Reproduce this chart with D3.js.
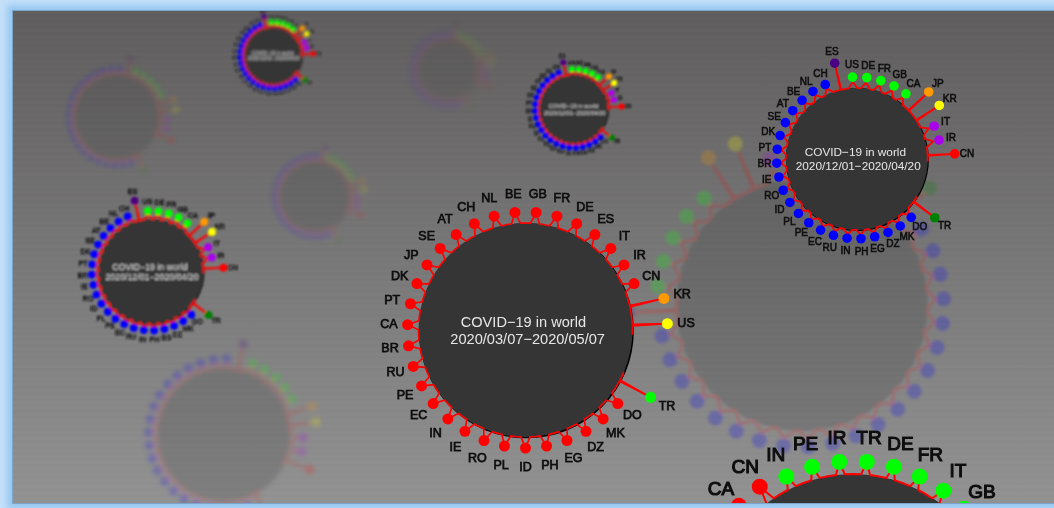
<!DOCTYPE html>
<html>
<head>
<meta charset="utf-8">
<script src="https://cdnjs.cloudflare.com/ajax/libs/d3/7.8.5/d3.min.js"></script>
<style>
  html, body { margin: 0; padding: 0; width: 1054px; height: 508px; overflow: hidden; background: #c4e0f9; }
  #frame {
    position: absolute; left: 13px; top: 11px; width: 1070px; height: 492px;
    background:
      repeating-linear-gradient(180deg, rgba(255,255,255,.006) 0 3px, rgba(0,0,0,.006) 3px 6px),
      linear-gradient(180deg, #5f5d5d 0%, #929292 100%);
    box-shadow: 0 0 0 1px #7da5c8, 0 0 6px 6px #98c8f2;
  }
  #chart { position: absolute; left: 0; top: 0; clip-path: inset(11px 0 5px 13px); }
  text { font-family: "Liberation Sans", Arial, sans-serif; }
</style>
</head>
<body>
<div id="frame"></div>
<svg id="chart" width="1054" height="508"></svg>
<script>
  // null = empty slot in the ring
  const catsDec = ['DE','FR','GB','CA','JP','KR','IT','IR','CN',null,null,null,'TR','DO','MK','DZ','EG','PH','IN','RU','EC','PE','PL','ID','RO','IE','BR','PT','DK','SE','AT','BE','NL','CH','ES','US'];
  const valsDec = [15.5,15.5,15.5,15,38.5,38.5,18.3,18.8,38,null,null,null,37.5,12.4,12.4,12.4,12.4,12.5,12.4,12.4,12.4,12.4,12.4,12.4,12.6,12.6,12.8,12.8,13,13,13,13,13.4,13.8,38.5,15.5];
  const groupsDec = ['lime','lime','lime','lime','orange','yellow','violet','violet','red',null,null,null,'green','blue','blue','blue','blue','blue','blue','blue','blue','blue','blue','blue','blue','blue','blue','blue','blue','blue','blue','blue','blue','blue','indigo','lime'];

  const catsMar = ['GB','FR','DE','ES','IT','IR','CN','KR','US',null,null,'TR','DO','MK','DZ','EG','PH','ID','PL','RO','IE','IN','EC','PE','RU','BR','CA','PT','DK','JP','SE','AT','CH','NL','BE'];
  const valsMar = [10.3,10.3,10.3,10.3,10.3,10.3,10.3,32.7,32.7,null,null,32.7,10.3,10.3,10.3,10.3,10.3,10.3,10.3,10.3,10.3,10.3,10.3,10.3,10.3,10.3,10.3,10.3,10.3,10.3,10.3,10.3,10.3,10.3,10.3];
  const groupsMar = ['red','red','red','red','red','red','red','orange','yellow',null,null,'lime','red','red','red','red','red','red','red','red','red','red','red','red','red','red','red','red','red','red','red','red','red','red','red'];

  // last ring: only the top of it is on screen, the rest of the slots are cut off
  const catsLast = ['TR','DE','FR','IT','GB',null,null,null,null,null,null,null,null,null,null,null,null,null,null,null,null,null,null,null,null,null,null,null,null,null,'CA','CN','IN','PE','IR'];
  const valsLast = [9,9,9,9,9,null,null,null,null,null,null,null,null,null,null,null,null,null,null,null,null,null,null,null,null,null,null,null,null,null,12,12.5,9,9,9];
  const groupsLast = ['lime','lime','lime','lime','lime',null,null,null,null,null,null,null,null,null,null,null,null,null,null,null,null,null,null,null,null,null,null,null,null,null,'red','red','lime','lime','lime'];

  const titleMain = 'COVID\u221219 in world';
  const rangeDec = '2020/12/01\u22122020/04/20';
  const rangeMar = '2020/03/07\u22122020/05/07';

  const groupNames = ['red','orange','yellow','lime','green','blue','indigo','violet'];
  const groupColors = ['#ff0000','#ff9900','#ffff00','#00ff00','#008000','#0000ff','#4b0082','#aa00ee'];
  const color = d3.scaleOrdinal(groupNames, groupColors);

  const dec = { cats: catsDec, vals: valsDec, groups: groupsDec, range: rangeDec };
  const mar = { cats: catsMar, vals: valsMar, groups: groupsMar, range: rangeMar };
  const last = { cats: catsLast, vals: valsLast, groups: groupsLast, range: '' };

  // back to front. bump = how far a short slot's spike goes towards its dot
  const panels = [
    { d: dec, x: 448, y: 70, r: 32, rot: 26, dot: 2.8, blur: 3, op: .13, lw: 1.6, spike: 4, bump: .6 },
    { d: dec, x: 117, y: 117, r: 43, rot: 28, dot: 3.2, blur: 2.2, op: .17, lw: 1.5, spike: 4, bump: .6 },
    { d: dec, x: 315, y: 196.5, r: 36, rot: 27, dot: 3, blur: 2.4, op: .17, lw: 1.5, spike: 4, bump: .6 },
    { d: dec, x: 224, y: 435, r: 67, rot: 27, dot: 4.8, blur: 2, op: .2, lw: 1.7, spike: 4, bump: .6 },
    { d: dec, x: 802, y: 305, r: 126, rot: -77.5, dot: 7.5, blur: 1.8, op: .22, lw: 2.2, spike: 4, bump: .5 },
    { d: dec, x: 273, y: 55.7, r: 29, rot: 2, dot: 2.6, blur: 1.5, op: 1, lw: 1.6, spike: 4, bump: .6, font: 4, title: 4.9 },
    { d: dec, x: 574, y: 109, r: 34.5, rot: 2, dot: 3, blur: 1.1, op: 1, lw: 1.6, spike: 4, bump: .6, font: 4.8, title: 5.8 },
    { d: dec, x: 151, y: 271.5, r: 52.5, rot: 2, dot: 3.9, blur: .85, op: 1, lw: 1.8, spike: 4, bump: .6, font: 7.2, title: 8.8 },
    { d: mar, x: 525.5, y: 330, r: 107, rot: 0, dot: 5.5, blur: .4, op: 1, lw: 1.7, spike: 2.4, bump: 1, font: 12.5, title: 14.6 },
    { d: dec, x: 856.8, y: 159, r: 71, rot: 2, dot: 4.8, blur: .4, op: 1, lw: 1.8, spike: 3.5, bump: .55, font: 10, title: 11.8 },
    { d: last, x: 853, y: 615, r: 141, rot: 0, dot: 8, blur: .4, op: 1, lw: 2, spike: 1.8, bump: 1, font: 19, title: 18 }
  ];

  const svg = d3.select('#chart');
  const defs = svg.append('defs');
  const rad = Math.PI / 180;

  panels.forEach((p, i) => {
    defs.append('filter').attr('id', 'b' + i)
      .attr('x', '-20%').attr('y', '-20%').attr('width', '140%').attr('height', '140%')
      .append('feGaussianBlur').attr('stdDeviation', p.blur);

    const g = svg.append('g')
      .attr('transform', `translate(${p.x},${p.y})`)
      .attr('opacity', p.op)
      .attr('filter', `url(#b${i})`);

    const slots = p.d.cats.map((c, k) => k);
    const angle = d3.scaleBand().domain(slots).range([p.rot, p.rot + 360]);
    const radius = d3.scaleLinear().domain([0, 100]).range([p.r, p.r * 2]);
    const mid = k => angle(k) + angle.bandwidth() / 2;

    if (p.op === 1) {
      g.append('circle').attr('cx', p.r * .008).attr('cy', p.r * .008).attr('r', p.r + .5).attr('fill', '#000');
    }
    g.append('circle').attr('r', p.r).attr('fill', '#363636');

    // ring path: flat between slots, one spike per slot, broken on empty slots
    const ring = [];
    slots.forEach(k => {
      const v = p.d.vals[k];
      if (v == null) { ring.push(null); return; }
      const w = v > 25 ? .4 : p.spike;
      const peak = v > 25 ? v : v * p.bump;
      ring.push([angle(k), 0], [mid(k) - w, 0], [mid(k), peak], [mid(k) + w, 0], [angle(k) + angle.bandwidth(), 0]);
    });
    const line = d3.lineRadial()
      .defined(q => q !== null)
      .angle(q => q[0] * rad)
      .radius(q => radius(q[1]));
    g.append('path').attr('d', line(ring))
      .attr('fill', 'none').attr('stroke', '#ff0000').attr('stroke-width', p.lw);

    const filled = slots.filter(k => p.d.vals[k] != null);
    g.selectAll('circle.dot').data(filled).enter().append('circle')
      .attr('class', 'dot')
      .attr('cx', k => radius(p.d.vals[k]) * Math.sin(mid(k) * rad))
      .attr('cy', k => -radius(p.d.vals[k]) * Math.cos(mid(k) * rad))
      .attr('r', p.dot)
      .attr('fill', k => color(p.d.groups[k]));

    if (!p.font) return;

    const gap = p.r * .175;
    g.selectAll('text.lab').data(filled).enter().append('text')
      .attr('class', 'lab')
      .attr('x', k => (radius(p.d.vals[k]) + gap) * Math.sin(mid(k) * rad))
      .attr('y', k => -(radius(p.d.vals[k]) + gap) * Math.cos(mid(k) * rad))
      .attr('text-anchor', 'middle').attr('dominant-baseline', 'central')
      .attr('font-size', p.font)
      .attr('fill', '#111')
      .attr('stroke', '#111').attr('stroke-width', p.font * .06)
      .text(k => p.d.cats[k]);

    if (!p.d.range) return;
    g.append('text').attr('x', -p.r * .02).attr('y', -p.title * .22)
      .attr('text-anchor', 'middle').attr('font-size', p.title).attr('fill', '#e6e6e6').text(titleMain);
    g.append('text').attr('x', p.r * .02).attr('y', p.title * .97)
      .attr('text-anchor', 'middle').attr('font-size', p.title).attr('fill', '#e6e6e6').text(p.d.range);
  });
</script>
</body>
</html>
